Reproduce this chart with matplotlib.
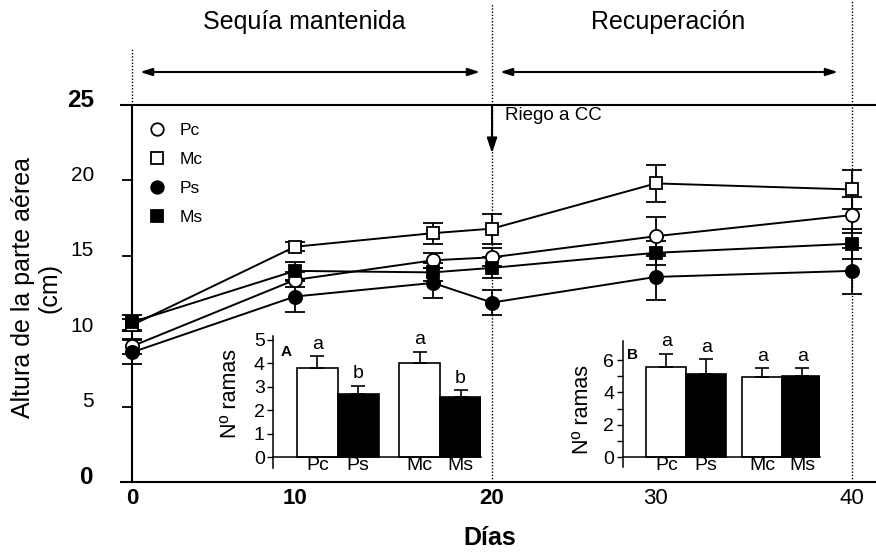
import numpy as np
import matplotlib
matplotlib.use('Agg')
import matplotlib.pyplot as plt
from matplotlib.transforms import ScaledTranslation

plt.rcParams['font.family'] = ['Liberation Sans', 'DejaVu Sans']

# ---------------- data ----------------
days = [0, 10, 17, 20, 30, 40]
pc_mean = [9.0, 13.4, 14.7, 14.9, 16.3, 17.7]
pc_err = [0.5, 0.5, 0.5, 0.6, 1.3, 1.2]
mc_mean = [10.4, 15.6, 16.5, 16.8, 19.8, 19.4]
mc_err = [0.4, 0.3, 0.7, 1.0, 1.2, 1.3]
ps_mean = [8.6, 12.3, 13.2, 11.9, 13.6, 14.0]
ps_err = [0.8, 1.0, 1.0, 0.8, 1.5, 1.5]
ms_mean = [10.6, 14.0, 13.9, 14.2, 15.2, 15.8]
ms_err = [0.5, 0.6, 0.6, 0.7, 0.8, 1.0]

x_ticks = [0, 10, 20, 30, 40]
y_ticks = [0, 5, 10, 15, 20, 25]

bar_names = ['Pc', 'Ps', 'Mc', 'Ms']
a_means = [3.8, 2.7, 4.0, 2.55]
a_err = [0.5, 0.35, 0.5, 0.3]
a_letters = ['a', 'b', 'a', 'b']
b_means = [5.6, 5.15, 4.95, 5.0]
b_err = [0.8, 0.9, 0.55, 0.5]
b_letters = ['a', 'a', 'a', 'a']

# visual spacing of the original day axis (non-uniform drawing)
knot_days = [-10, 0, 10, 20, 30, 40, 60]
knot_pos = [-10, 0, 9.05, 20, 29.1, 40, 60]


def fwd(d):
    return np.interp(d, knot_days, knot_pos)


def inv(p):
    return np.interp(p, knot_pos, knot_days)


W, H = 876, 552
fig = plt.figure(figsize=(W / 100, H / 100), dpi=100)


def fx(px):
    return px / W


def fy(py):
    return 1 - py / H


sz_small = 14

# ---------------- main axes ----------------
ax = fig.add_axes([fx(121), fy(482), 755 / W, 377 / H])
ax.patch.set_visible(False)
ax.set_xscale('function', functions=(fwd, inv))
ax.set_xlim(-0.61, 41.33)
ax.set_ylim(0, 25)
ax.spines['right'].set_visible(False)
ax.spines['left'].set_position(('data', 0))
for s in ['left', 'bottom', 'top']:
    ax.spines[s].set_linewidth(1.5)

ax.set_yticks(y_ticks)
ax.set_yticklabels([str(v) for v in y_ticks])
ax.tick_params(axis='y', direction='out', length=7.5, width=1.3, pad=20, labelsize=15)
off = ScaledTranslation(0, 5 / 72, fig.dpi_scale_trans)
for lbl in ax.get_yticklabels():
    lbl.set_transform(lbl.get_transform() + off)
    if lbl.get_text() in ('25', '0'):
        lbl.set_fontweight('bold')
        lbl.set_fontsize(17.5)

ax.set_xticks(x_ticks)
ax.set_xticklabels([str(v) for v in x_ticks])
ax.tick_params(axis='x', length=0, pad=4, labelsize=16)
for lbl in ax.get_xticklabels():
    if lbl.get_text() in ('0', '10', '20'):
        lbl.set_fontweight('bold')

series = [
    ('Pc', pc_mean, pc_err, 'o', 'white', 9.5),
    ('Mc', mc_mean, mc_err, 's', 'white', 8.5),
    ('Ps', ps_mean, ps_err, 'o', 'black', 9.5),
    ('Ms', ms_mean, ms_err, 's', 'black', 8.5),
]
handles = []
for name, m, e, mk, fc, ms in series:
    ax.errorbar(days, m, yerr=e, color='k', lw=1.4, marker=mk, ms=ms,
                mfc=fc, mec='k', mew=1.3, elinewidth=1.3, capsize=7.5,
                capthick=1.3, clip_on=False, zorder=3)
    h, = ax.plot([], [], ls='none', marker=mk, ms=ms - 0.5, mfc=fc, mec='k', mew=1.3)
    handles.append(h)

ax.legend(handles, [s[0] for s in series], loc='upper left',
          bbox_to_anchor=(fx(148), fy(123)), bbox_transform=fig.transFigure,
          frameon=False, fontsize=12.5,
          handlelength=1.0, handletextpad=0.85,
          labelspacing=0.8, borderpad=0, borderaxespad=0)

dot = (0, (1, 1.3))
ax.axvline(0, ymin=1.0, ymax=(482 - 49) / 377, color='k', lw=1, ls=dot, clip_on=False)
ax.axvline(20, ymin=0, ymax=(482 - 3) / 377, color='k', lw=1, ls=dot, clip_on=False)
ax.axvline(40, ymin=0, ymax=482 / 377, color='k', lw=1, ls=dot, clip_on=False)

arrow_kw = dict(arrowstyle='<|-|>,head_length=0.7,head_width=0.22', lw=1.5,
                color='k', shrinkA=0, shrinkB=0)
ya = (482 - 72) / 377
ax.annotate('', xy=((480 - 121) / 755, ya), xytext=((140 - 121) / 755, ya),
            xycoords='axes fraction', textcoords='axes fraction',
            arrowprops=arrow_kw, annotation_clip=False)
ax.annotate('', xy=((838 - 121) / 755, ya), xytext=((500 - 121) / 755, ya),
            xycoords='axes fraction', textcoords='axes fraction',
            arrowprops=arrow_kw, annotation_clip=False)

ax.annotate('', xy=(20, 21.8), xytext=(20, 25), xycoords='data',
            arrowprops=dict(arrowstyle='-|>,head_length=0.9,head_width=0.3',
                            lw=1.5, color='k', shrinkA=0, shrinkB=0))
ax.text((505 - 121) / 755, (482 - 116) / 377, 'Riego a CC', transform=ax.transAxes,
        ha='left', va='center', fontsize=13.5)

fig.text(fx(304), fy(22), 'Sequía mantenida', ha='center', va='center', fontsize=18)
fig.text(fx(668), fy(22), 'Recuperación', ha='center', va='center', fontsize=18)
fig.text(fx(36), fy(288), 'Altura de la parte aérea\n(cm)', rotation=90,
         ha='center', va='center', multialignment='center', fontsize=18,
         linespacing=1.15)
fig.text(fx(490), fy(538), 'Días', ha='center', va='center', fontsize=18,
         fontweight='bold')

# ---------------- insets ----------------
bar_pos_a = [0, 1, 2.5, 3.5]
bar_pos_b = [0, 1, 2.4, 3.4]
bar_colors = ['white', 'black', 'white', 'black']


def inset(rect, xlim, ylim, pos, means, errs, letters, tag, tag_xy,
          yticks, minor, ylab_xy):
    a = fig.add_axes(rect)
    a.patch.set_visible(False)
    a.bar(pos, means, width=1.0, color=bar_colors, edgecolor='k', lw=1.2, zorder=2)
    a.errorbar(pos, means, yerr=[np.zeros(len(errs)), errs], fmt='none',
               ecolor='k', elinewidth=1.2, capsize=4.7, capthick=1.2, zorder=3)
    for p, m, e, l in zip(pos, means, errs, letters):
        a.annotate(l, xy=(p, m + e), xytext=(0, 2.5), textcoords='offset points',
                   ha='center', va='bottom', fontsize=sz_small)
    a.set_xlim(*xlim)
    a.set_ylim(*ylim)
    a.spines['top'].set_visible(False)
    a.spines['right'].set_visible(False)
    a.spines['bottom'].set_position(('data', 0))
    a.spines['left'].set_linewidth(1.1)
    a.spines['bottom'].set_linewidth(1.1)
    a.set_xticks(pos)
    a.set_xticklabels(bar_names, fontsize=sz_small)
    a.tick_params(axis='x', length=0, pad=0)
    a.set_yticks(yticks)
    a.set_yticklabels([str(v) for v in yticks], fontsize=sz_small)
    if minor:
        a.set_yticks(minor, minor=True)
    a.tick_params(axis='y', which='both', direction='out', length=4, width=1, pad=2)
    a.text(tag_xy[0], tag_xy[1], tag, transform=a.transAxes, ha='center',
           va='center', fontsize=11, fontweight='bold')
    fig.text(fx(ylab_xy[0]), fy(ylab_xy[1]), 'Nº ramas', rotation=90,
             ha='center', va='center', fontsize=15.5)
    return a


# inset A: 23.5 px per unit, zero at y=457.3
inset([fx(273), fy(467.9), 208 / W, 131.6 / H], (-1.085, 4.0), (-0.45, 5.15),
      bar_pos_a, a_means, a_err, a_letters, 'A', (0.0625, 0.88),
      [0, 1, 2, 3, 4, 5], None, (231, 394))
# inset B: 16.2 px per unit, zero at y=457.3
inset([fx(622.7), fy(467.0), 197.2 / W, 126.4 / H], (-1.09, 3.84), (-0.6, 7.2),
      bar_pos_b, b_means, b_err, b_letters, 'B', (0.052, 0.886),
      [0, 2, 4, 6], [1, 3, 5], (583, 410))

fig.savefig('out.png', dpi=100)
